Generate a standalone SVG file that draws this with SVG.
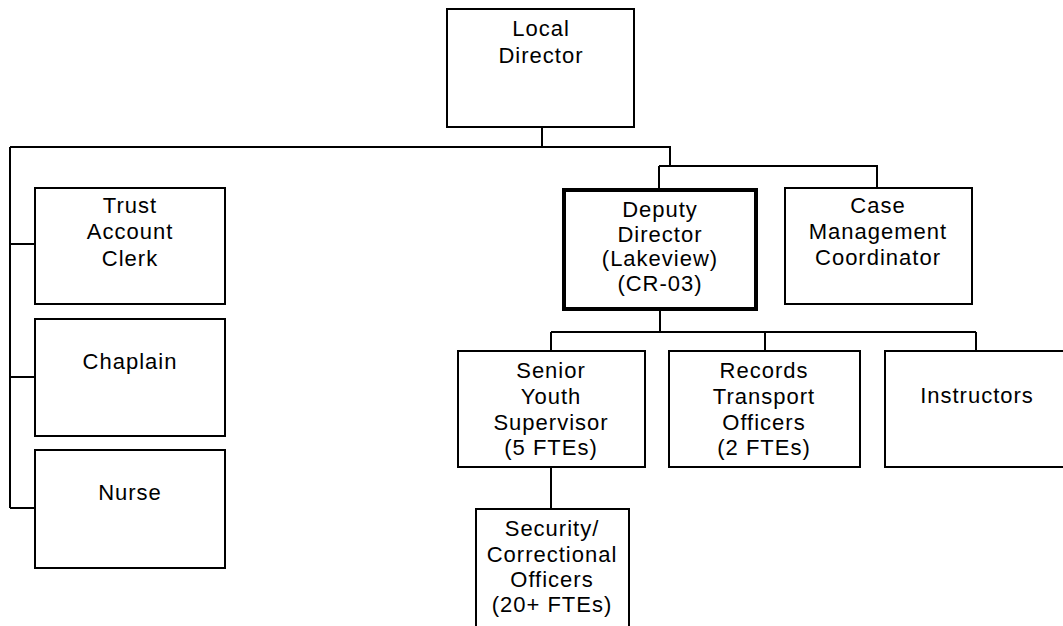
<svg xmlns="http://www.w3.org/2000/svg" width="1063" height="626" viewBox="0 0 1063 626">
<style>
.box{fill:#fff;stroke:#000;stroke-width:2}
.thick{fill:#fff;stroke:#000;stroke-width:4}
.conn{fill:none;stroke:#000;stroke-width:2}
text{font-family:"Liberation Sans",Arial,sans-serif;font-size:22px;fill:#000;text-anchor:middle;letter-spacing:1px}
</style>
<rect width="1063" height="626" fill="#fff"/>
<g id="connectors">
<path class="conn" d="M542,127 V147 M10,147 H670 V166 M659,166 H877 V188 M659,166 V190 M10,147 V508 M10,244 H35 M10,377 H35 M10,508 H35 M660,309 V332 M551,332 H976 M551,332 V351 M765,332 V351 M976,332 V351 M551,467 V509"/>
</g>
<g id="local-director">
<rect class="box" x="447" y="9" width="187" height="118"/>
<text x="541" y="36">Local</text>
<text x="541" y="63">Director</text>
</g>
<g id="trust-account-clerk">
<rect class="box" x="35" y="188" width="190" height="116"/>
<text x="130" y="213">Trust</text>
<text x="130" y="239">Account</text>
<text x="130" y="266">Clerk</text>
</g>
<g id="chaplain">
<rect class="box" x="35" y="319" width="190" height="117"/>
<text x="130" y="369">Chaplain</text>
</g>
<g id="nurse">
<rect class="box" x="35" y="450" width="190" height="118"/>
<text x="130" y="500">Nurse</text>
</g>
<g id="deputy-director">
<rect class="thick" x="564" y="190" width="192" height="119"/>
<text x="660" y="217">Deputy</text>
<text x="660" y="242">Director</text>
<text x="660" y="266">(Lakeview)</text>
<text x="660" y="291">(CR-03)</text>
</g>
<g id="case-management-coordinator">
<rect class="box" x="785" y="188" width="187" height="116"/>
<text x="878" y="213">Case</text>
<text x="878" y="239">Management</text>
<text x="878" y="265">Coordinator</text>
</g>
<g id="senior-youth-supervisor">
<rect class="box" x="458" y="351" width="187" height="116"/>
<text x="551" y="378">Senior</text>
<text x="551" y="404">Youth</text>
<text x="551" y="430">Supervisor</text>
<text x="551" y="455">(5 FTEs)</text>
</g>
<g id="records-transport-officers">
<rect class="box" x="669" y="351" width="191" height="116"/>
<text x="764" y="378">Records</text>
<text x="764" y="404">Transport</text>
<text x="764" y="430">Officers</text>
<text x="764" y="455">(2 FTEs)</text>
</g>
<g id="instructors">
<rect class="box" x="885" y="351" width="190" height="116"/>
<text x="977" y="403">Instructors</text>
</g>
<g id="security-correctional-officers">
<rect class="box" x="476" y="509" width="153" height="130"/>
<text x="552" y="536">Security/</text>
<text x="552" y="562">Correctional</text>
<text x="552" y="587">Officers</text>
<text x="552" y="612">(20+ FTEs)</text>
</g>
</svg>
